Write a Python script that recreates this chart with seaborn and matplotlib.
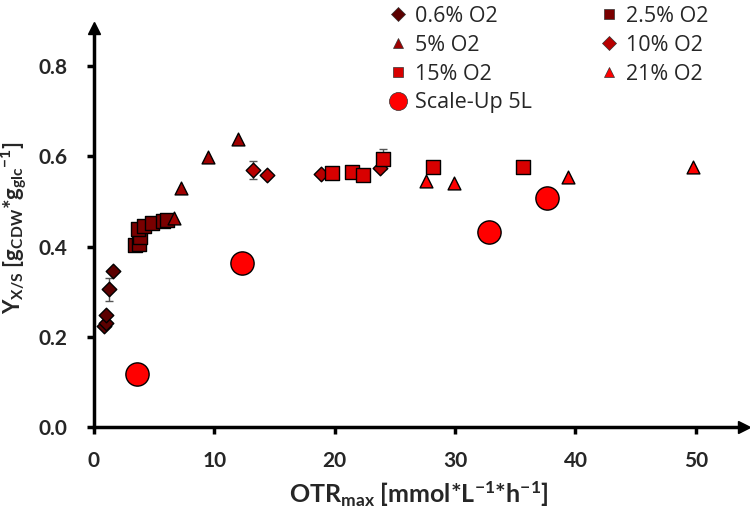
import numpy as np
import pandas as pd
import matplotlib
matplotlib.use("Agg")
import matplotlib.pyplot as plt
from matplotlib.lines import Line2D
import seaborn as sns

sns.set_theme(style="white")
plt.rcParams["font.family"] = ["Lato", "DejaVu Sans"]
plt.rcParams["mathtext.fontset"] = "custom"
plt.rcParams["mathtext.rm"] = "Lato:bold"
plt.rcParams["mathtext.bf"] = "Lato:bold"
plt.rcParams["mathtext.it"] = "Lato:bold"
plt.rcParams["mathtext.default"] = "bf"

# donnees (OTRmax, Yx/s)
otr_06 = [0.85, 1.0, 1.0, 1.25, 1.6]
yxs_06 = [0.225, 0.23, 0.248, 0.305, 0.346]
err_06 = [0, 0, 0, 0.025, 0]

otr_25 = [3.4, 3.76, 3.82, 3.68, 4.15, 4.79, 5.7, 6.05]
yxs_25 = [0.403, 0.407, 0.422, 0.439, 0.446, 0.452, 0.458, 0.460]

otr_5 = [6.67, 7.2, 9.49, 11.99]
yxs_5 = [0.463, 0.531, 0.598, 0.638]

otr_10 = [13.23, 14.34, 18.83, 23.75]
yxs_10 = [0.570, 0.559, 0.562, 0.575]
err_10 = [0.02, 0, 0, 0]

otr_15 = [19.79, 21.45, 22.32, 23.98, 28.18, 35.6]
yxs_15 = [0.564, 0.566, 0.559, 0.594, 0.576, 0.577]
err_15 = [0, 0, 0, 0.022, 0, 0]

otr_21 = [27.57, 29.93, 39.34, 49.8]
yxs_21 = [0.545, 0.542, 0.554, 0.577]

otr_su = [3.6, 12.3, 32.8, 37.6]
yxs_su = [0.117, 0.364, 0.433, 0.507]

groupes = [
    ("0.6% O2", otr_06, yxs_06, err_06, "D", "#5c0000", 55),
    ("2.5% O2", otr_25, yxs_25, None, "s", "#7a0000", 95),
    ("5% O2", otr_5, yxs_5, None, "^", "#a00000", 85),
    ("10% O2", otr_10, yxs_10, err_10, "D", "#b80000", 55),
    ("15% O2", otr_15, yxs_15, err_15, "s", "#d80000", 95),
    ("21% O2", otr_21, yxs_21, None, "^", "#ff0000", 85),
    ("Scale-Up 5L", otr_su, yxs_su, None, "o", "#ff0000", 280),
]

fig = plt.figure(figsize=(7.5, 5.11), dpi=100)
ax = fig.add_axes([94 / 750, 84 / 511, 650 / 750, 399 / 511])

# barres d'erreur
for nom, x, y, e, m, c, s in groupes:
    if e is not None:
        xe = [xi for xi, ei in zip(x, e) if ei > 0]
        ye = [yi for yi, ei in zip(y, e) if ei > 0]
        ee = [ei for ei in e if ei > 0]
        ax.errorbar(xe, ye, yerr=ee, fmt="none", ecolor="#555555",
                    elinewidth=1, capsize=3, capthick=1, zorder=2)

handles = {}
for nom, x, y, e, m, c, s in groupes:
    df = pd.DataFrame({"otr": x, "yxs": y})
    sns.scatterplot(data=df, x="otr", y="yxs", marker=m, color=c, s=s,
                    edgecolor="black", linewidth=1, ax=ax, zorder=3)
    ms = 13 if m == "o" else 7
    handles[nom] = Line2D([], [], marker=m, color="none", markerfacecolor=c,
                          markeredgecolor="#333333", markeredgewidth=0.5,
                          markersize=ms, label=nom)

ax.set_xlim(0, 54.0)
ax.set_ylim(0, 0.885)
ax.set_xticks([0, 10, 20, 30, 40, 50])
ax.set_yticks([0.0, 0.2, 0.4, 0.6, 0.8])
ax.set_yticklabels(["0.0", "0.2", "0.4", "0.6", "0.8"])
for lab in ax.get_xticklabels() + ax.get_yticklabels():
    lab.set_fontweight("bold")
    lab.set_fontsize(15)
ax.tick_params(axis="x", direction="out", length=5, width=2.5,
               color="black", bottom=True, pad=12)
ax.tick_params(axis="y", direction="out", length=5, width=2.5,
               color="black", left=True, pad=14)

for cote in ["top", "right"]:
    ax.spines[cote].set_visible(False)
for cote in ["left", "bottom"]:
    ax.spines[cote].set_linewidth(2.5)
    ax.spines[cote].set_color("black")

# fleches au bout des axes
ax.plot(1, 0, marker=">", color="black", markersize=8, transform=ax.transAxes, clip_on=False)
ax.plot(0, 1, marker="^", color="black", markersize=8, transform=ax.transAxes, clip_on=False)

ax.set_xlabel(r"OTR$_{max}$ [mmol*L$^{-1}$*h$^{-1}$]", fontsize=18, fontweight="bold", labelpad=6)
ax.set_ylabel(r"Y$_{X/S}$ [g$_{CDW}$*g$_{glc}$$^{-1}$]", fontsize=16, fontweight="bold", labelpad=6)

# legende en deux colonnes
col1 = ["0.6% O2", "5% O2", "15% O2", "Scale-Up 5L"]
col2 = ["2.5% O2", "10% O2", "21% O2"]
opts = dict(loc="upper left", frameon=False, handlelength=0.8, handletextpad=0.4,
            labelspacing=0.36, borderaxespad=0, borderpad=0,
            prop={"family": "Open Sans", "size": 15.5})
leg1 = fig.legend(handles=[handles[k] for k in col1], bbox_to_anchor=(389 / 750, 1 - 6 / 511), **opts)
leg2 = fig.legend(handles=[handles[k] for k in col2], bbox_to_anchor=(600 / 750, 1 - 6 / 511), **opts)

plt.savefig("out.png", dpi=100)
